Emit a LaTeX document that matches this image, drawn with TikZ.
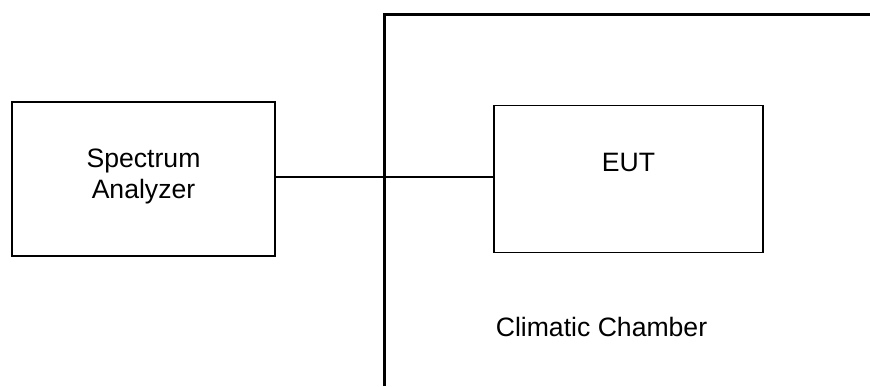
\documentclass[tikz,border=0pt]{standalone}
\usepackage{fontspec}
\setmainfont{Liberation Sans}
\usepackage{tikz}
\usetikzlibrary{shapes,arrows,positioning}

\begin{document}
\begin{tikzpicture}[x=0.5pt,y=-0.5pt,
                    box/.style={draw,line width=0.7pt,rectangle,inner sep=0pt},
                    lbl/.style={inner sep=0pt,align=center,font=\fontsize{13.3}{15.4}\selectfont},
                    wall/.style={line width=1.5pt,line join=miter}]
                   % Sizes
                   \pgfmathsetmacro{\wallx}{384.7}
                   \pgfmathsetmacro{\wally}{14.7}
                   \useasboundingbox (0,0) rectangle (870,386);

                   % vertices
                   \node[box, minimum width=131.5pt, minimum height=77pt] (sa) at (143.5,179) {};
                   \node[box, minimum width=134.5pt, minimum height=73.5pt] (eut) at (628.5,179) {};
                   \node[lbl] (satext) at (143.5,176.3) {Spectrum\\Analyzer};
                   \node[lbl] (euttext) at (628.5,162) {EUT};
                   \node[lbl] (chambertext) at (601.5,327) {Climatic Chamber};

                   % draw diagram
                   \draw[wall] (\wallx,386) -- (\wallx,\wally) -- (870,\wally);
                   \draw[line width=0.6pt] ([yshift=1pt]sa.east) -- ([yshift=1pt]eut.west);
\end{tikzpicture}
\end{document}
